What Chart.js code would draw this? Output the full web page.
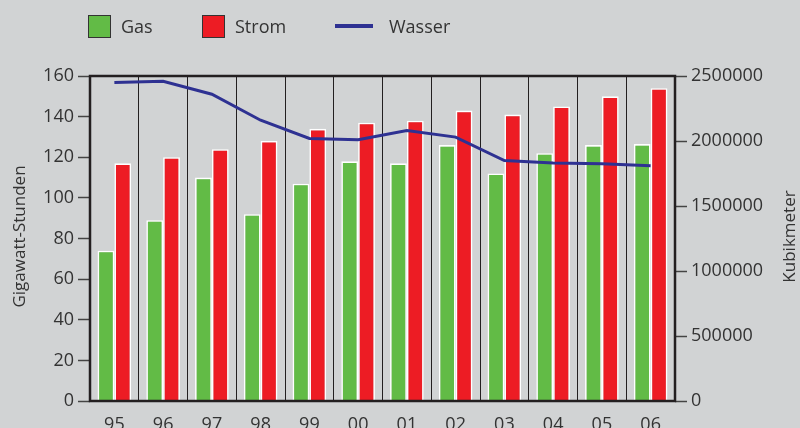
<!DOCTYPE html>
<html>
<head>
<meta charset="utf-8">
<script src="https://cdn.jsdelivr.net/npm/chart.js@4/dist/chart.umd.min.js"></script>
<style>
body { margin: 0; background: #d1d3d4; overflow: hidden; font-family: 'Open Sans', sans-serif; }
#wrap { position: relative; width: 800px; height: 428px; overflow: hidden; }
#canvasGrafico { position: absolute; top: 0; left: 0; }
.caja { position: absolute; top: 15px; width: 21px; height: 21px; border: 1px solid #333; }
.linea { position: absolute; top: 24px; width: 38px; height: 4px; background: #2e3192; }
.txt { position: absolute; top: 13px; font-size: 18px; line-height: 26px; color: #333; }
</style>
</head>
<body>
<div id="wrap">
    <canvas id="canvasGrafico" width="800" height="445"></canvas>
    <div class="caja" style="left:88px; background:#62bb46;"></div>
    <div class="txt" style="left:121px;">Gas</div>
    <div class="caja" style="left:202px; background:#ed1c24;"></div>
    <div class="txt" style="left:235px;">Strom</div>
    <div class="linea" style="left:335px;"></div>
    <div class="txt" style="left:389px;">Wasser</div>
</div>
<script>
var categorias = ['95', '96', '97', '98', '99', '00', '01', '02', '03', '04', '05', '06'];
var gas = [74, 89, 110, 92, 107, 118, 117, 126, 112, 122, 126, 126.5];
var strom = [117, 120, 124, 128, 134, 137, 138, 143, 141, 145, 150, 154];
var wasser = [2450000, 2460000, 2360000, 2160000, 2020000, 2010000, 2080000, 2030000, 1850000, 1830000, 1825000, 1810000];
var ejeIzq = { min: 0, max: 160, paso: 20, titulo: 'Gigawatt-Stunden' };
var ejeDer = { min: 0, max: 2500000, paso: 500000, titulo: 'Kubikmeter' };

var colorTexto = '#333333';
var colorOscuro = '#231f20';
var fuente = "'Open Sans', sans-serif";

// marco del area y titulos de los ejes (ambos leidos de abajo hacia arriba)
var marco = {
    id: 'marco',
    afterDraw: function (chart) {
        var ctx = chart.ctx;
        var a = chart.chartArea;
        ctx.save();
        ctx.strokeStyle = colorOscuro;
        ctx.lineWidth = 2.5;
        ctx.strokeRect(a.left, a.top, a.right - a.left, a.bottom - a.top);

        ctx.fillStyle = colorTexto;
        ctx.font = '17px ' + fuente;
        ctx.textAlign = 'center';
        ctx.textBaseline = 'middle';
        var cy = (a.top + a.bottom) / 2 - 2;
        ctx.translate(20, cy);
        ctx.rotate(-Math.PI / 2);
        ctx.fillText(ejeIzq.titulo, 0, 0);
        ctx.restore();

        ctx.save();
        ctx.fillStyle = colorTexto;
        ctx.font = '17px ' + fuente;
        ctx.textAlign = 'center';
        ctx.textBaseline = 'middle';
        ctx.translate(790, cy);
        ctx.rotate(-Math.PI / 2);
        ctx.fillText(ejeDer.titulo, 0, 0);
        ctx.restore();
    }
};

var ctx = document.getElementById('canvasGrafico').getContext('2d');

window.myBar = new Chart(ctx, {
    type: 'bar',
    data: {
        labels: categorias,
        datasets: [{
            type: 'line',
            label: 'Wasser',
            data: wasser,
            yAxisID: 'yDer',
            borderColor: '#2e3192',
            borderWidth: 3,
            pointRadius: 0,
            tension: 0,
            order: 0
        }, {
            label: 'Gas',
            data: gas,
            yAxisID: 'yIzq',
            backgroundColor: '#62bb46',
            borderColor: '#ffffff',
            borderWidth: 1.6,
            order: 1
        }, {
            label: 'Strom',
            data: strom,
            yAxisID: 'yIzq',
            backgroundColor: '#ed1c24',
            borderColor: '#ffffff',
            borderWidth: 1.6,
            order: 1
        }]
    },
    options: {
        responsive: false,
        animation: false,
        layout: { padding: { top: 76, left: 0, right: 0, bottom: 0 } },
        datasets: {
            bar: { categoryPercentage: 0.69, barPercentage: 1.0 }
        },
        plugins: {
            legend: { display: false },
            title: { display: false },
            tooltip: { enabled: false }
        },
        scales: {
            x: {
                offset: true,
                grid: { offset: true, color: colorOscuro, lineWidth: 1, drawTicks: false },
                border: { display: false },
                ticks: { color: colorTexto, font: { family: fuente, size: 18 }, padding: 13 },
                afterFit: function (scale) { scale.height = 44; }
            },
            yIzq: {
                position: 'left',
                min: ejeIzq.min,
                max: ejeIzq.max,
                grid: { drawOnChartArea: false, tickLength: 12, tickColor: '#444', tickWidth: 1.5 },
                border: { display: false },
                ticks: { stepSize: ejeIzq.paso, color: colorTexto, font: { family: fuente, size: 18 }, padding: 4 },
                afterFit: function (scale) { scale.width = 90; }
            },
            yDer: {
                position: 'right',
                min: ejeDer.min,
                max: ejeDer.max,
                grid: { drawOnChartArea: false, tickLength: 12, tickColor: '#444', tickWidth: 1.5 },
                border: { display: false },
                ticks: {
                    stepSize: ejeDer.paso, color: colorTexto, font: { family: fuente, size: 18 }, padding: 4,
                    callback: function (v) { return String(v); }
                },
                afterFit: function (scale) { scale.width = 125; }
            }
        }
    },
    plugins: [marco]
});
</script>
</body>
</html>
